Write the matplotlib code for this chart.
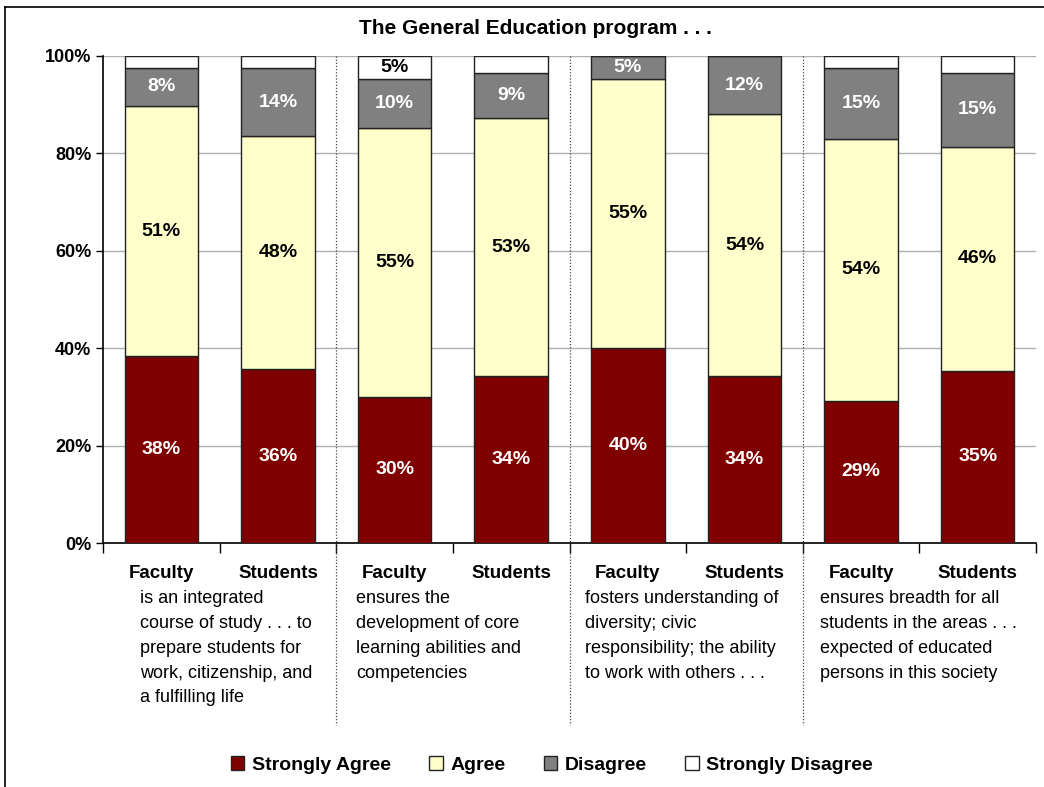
import numpy as np
import matplotlib.pyplot as plt
from matplotlib.lines import Line2D

plt.rcParams['font.family'] = ['Liberation Sans', 'DejaVu Sans']

# data
bars = ['Faculty', 'Students'] * 4
strongly_agree = [38.3, 35.7, 30.0, 34.2, 40.0, 34.2, 29.2, 35.4]
agree = [51.5, 47.8, 55.2, 53.0, 55.2, 53.8, 53.8, 45.9]
disagree = [7.7, 14.0, 10.0, 9.4, 4.8, 12.0, 14.5, 15.3]
strongly_disagree = [2.5, 2.5, 4.8, 3.4, 0.0, 0.0, 2.5, 3.4]
sa_lab = ['38%', '36%', '30%', '34%', '40%', '34%', '29%', '35%']
a_lab = ['51%', '48%', '55%', '53%', '55%', '54%', '54%', '46%']
d_lab = ['8%', '14%', '10%', '9%', '5%', '12%', '15%', '15%']
sd_lab = ['', '', '5%', '', '', '', '', '']
descriptions = [
    'is an integrated\ncourse of study . . . to\nprepare students for\nwork, citizenship, and\na fulfilling life',
    'ensures the\ndevelopment of core\nlearning abilities and\ncompetencies',
    'fosters understanding of\ndiversity; civic\nresponsibility; the ability\nto work with others . . .',
    'ensures breadth for all\nstudents in the areas . . .\nexpected of educated\npersons in this society',
]
series = ['Strongly Agree', 'Agree', 'Disagree', 'Strongly Disagree']
colors = ['#800000', '#FFFFCC', '#808080', '#FFFFFF']

fig = plt.figure(figsize=(10.44, 7.87), dpi=100)
W, H = 1044, 787
ax = fig.add_axes([103 / W, 1 - 543 / H, (1036 - 103) / W, (543 - 56) / H])

x = np.arange(len(bars))
vals = [strongly_agree, agree, disagree, strongly_disagree]
labs = [sa_lab, a_lab, d_lab, sd_lab]
txtcol = ['white', 'black', 'white', 'black']
bottom = np.zeros(len(bars))
for v, c, lab, tc, name in zip(vals, colors, labs, txtcol, series):
    v = np.array(v)
    ax.bar(x, v, 0.63, bottom=bottom, color=c, edgecolor='#222222', linewidth=1.0,
           label=name, zorder=3)
    for xi, b, h, t in zip(x, bottom, v, lab):
        if t:
            ax.text(xi, b + h / 2, t, ha='center', va='center', color=tc,
                    fontsize=14, fontweight='bold', zorder=4)
    bottom += v

ax.set_xlim(-0.5, 7.5)
ax.set_ylim(0, 100)
ax.set_yticks(np.arange(0, 101, 20))
ax.set_yticklabels([f'{t}%' for t in range(0, 101, 20)], fontsize=13, fontweight='bold')
ax.yaxis.grid(True, color='#b0b0b0', linewidth=1, zorder=0)
ax.set_xticks(np.arange(-0.5, 8, 1))
ax.set_xticklabels([])
ax.tick_params(axis='x', length=7, width=1, direction='out')
ax.tick_params(axis='y', length=5, width=1, direction='out')
for s in ['top', 'right']:
    ax.spines[s].set_visible(False)
ax.spines['left'].set_linewidth(1.2)
ax.spines['bottom'].set_linewidth(1.2)

trans = ax.get_xaxis_transform()
for xi, name in zip(x, bars):
    ax.text(xi, -0.062, name, transform=trans, ha='center', va='center',
            fontsize=13.5, fontweight='bold')

desc_x = [-0.18, 1.67, 3.63, 5.65]
for dx, d in zip(desc_x, descriptions):
    ax.text(dx, -0.097, d, transform=trans, ha='left', va='top', fontsize=13,
            linespacing=1.6)

for sx in [1.5, 3.5, 5.5]:
    ax.plot([sx, sx], [1.0, -0.374], transform=trans, color='#444444',
            linestyle=(0, (1, 1.5)), linewidth=0.9, clip_on=False, zorder=5)

fig.text(535 / W, 1 - 28 / H, 'The General Education program . . .', ha='center',
         va='center', fontsize=15, fontweight='bold')

fig.legend(loc='center', bbox_to_anchor=(552 / W, 1 - 765 / H), ncol=4, frameon=False,
           prop={'size': 14, 'weight': 'bold'}, handlelength=0.7, handleheight=0.7,
           handletextpad=0.4, columnspacing=1.95)

# outer frame
fig.add_artist(Line2D([5 / W, 1.0], [1 - 7 / H, 1 - 7 / H], transform=fig.transFigure,
                      color='black', linewidth=1.2))
fig.add_artist(Line2D([5 / W, 5 / W], [1 - 7 / H, 0.0], transform=fig.transFigure,
                      color='black', linewidth=1.2))

fig.savefig('out.png', dpi=100)
